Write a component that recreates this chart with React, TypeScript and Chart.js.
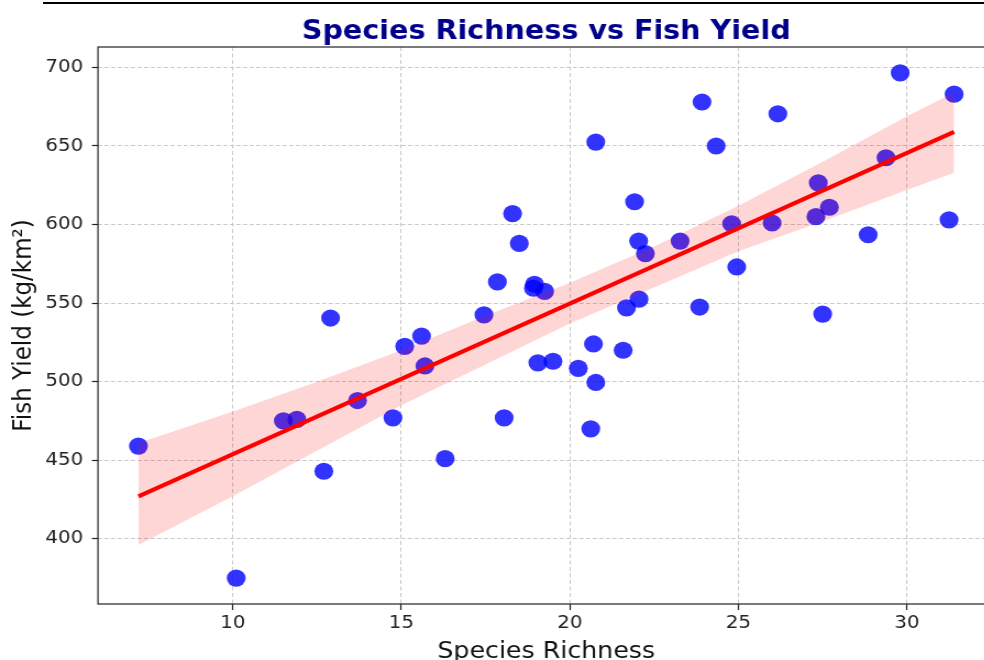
import React, { useEffect, useRef } from "react";
import { Chart, registerables } from "chart.js";

Chart.register(...registerables);

const TITLE = "Species Richness vs Fish Yield";
const X_LABEL = "Species Richness";
const Y_LABEL = "Fish Yield (kg/km²)";

const RICHNESS = [
  7.2, 10.1, 11.5, 11.9, 12.7, 12.9, 13.7, 14.75, 15.1, 15.6, 15.7, 16.3, 17.45,
  17.85, 18.05, 18.3, 18.5, 18.95, 18.92, 19.25, 19.05, 19.5, 20.25, 20.7, 20.77,
  20.62, 20.77, 21.58, 21.68, 22.05, 21.92, 22.04, 22.24, 23.27, 23.85, 23.92,
  24.34, 24.8, 24.95, 26.0, 26.17, 27.3, 27.37, 27.7, 27.5, 28.85, 29.38, 29.8,
  31.25, 31.4,
];
const YIELD = [
  459, 375, 475, 476, 443, 540.5, 488, 477, 522.5, 529, 510, 451, 542.5, 563.5,
  477, 607, 588, 562, 559.5, 557.5, 512, 513, 508.5, 524, 499.5, 470, 652.5, 520,
  547, 552.5, 614.5, 589.5, 581.5, 589.5, 547.5, 678, 650, 600.5, 573, 601, 670.5,
  605, 626.5, 611, 543, 593.5, 642.5, 696.5, 603, 683,
];

const FIT_X = [7.2, 31.4];
const FIT_Y = [427, 659];

const BAND_X = [7.2, 10, 12.5, 15, 17.5, 20, 22.5, 25, 27.5, 30, 31.4];
const BAND_UPPER = [461, 481, 500, 520, 542, 563, 586, 612, 640, 669, 684];
const BAND_LOWER = [396, 427, 456, 485, 511, 537, 560, 583, 602, 622, 633];

const X_TICKS = [10, 15, 20, 25, 30];
const Y_TICKS = [400, 450, 500, 550, 600, 650, 700];

const FONT = "'DejaVu Sans', sans-serif";
const SX = 1.1;
const CW = 913;
const CH = 680;

export default function App() {
  const ref = useRef<HTMLCanvasElement>(null);

  useEffect(() => {
    const canvas = ref.current;
    if (!canvas) return;

    const frame = {
      id: "frame",
      afterDraw(chart: any) {
        const { ctx, chartArea: a } = chart;
        ctx.save();
        ctx.strokeStyle = "#222";
        ctx.lineWidth = 1.2;
        ctx.strokeRect(a.left, a.top, a.right - a.left, a.bottom - a.top);
        ctx.restore();
      },
    };

    const chart = new Chart(canvas, {
      type: "scatter",
      data: {
        datasets: [
          {
            type: "line",
            label: "fit",
            data: FIT_X.map((x, i) => ({ x, y: FIT_Y[i] })),
            borderColor: "#ff0000",
            borderWidth: 4,
            pointRadius: 0,
            fill: false,
            tension: 0,
            order: 0,
          } as any,
          {
            type: "line",
            label: "ci upper",
            data: BAND_X.map((x, i) => ({ x, y: BAND_UPPER[i] })),
            borderColor: "transparent",
            borderWidth: 1,
            pointRadius: 0,
            fill: "+1",
            backgroundColor: "rgba(255,0,0,0.16)",
            tension: 0,
            order: 1,
          } as any,
          {
            type: "line",
            label: "ci lower",
            data: BAND_X.map((x, i) => ({ x, y: BAND_LOWER[i] })),
            borderColor: "transparent",
            borderWidth: 1,
            pointRadius: 0,
            fill: false,
            tension: 0,
            order: 1,
          } as any,
          {
            type: "scatter",
            label: "data",
            data: RICHNESS.map((x, i) => ({ x, y: YIELD[i] })),
            backgroundColor: "rgba(0,0,255,0.8)",
            borderWidth: 0,
            pointRadius: 8.6,
            order: 2,
          } as any,
        ],
      },
      options: {
        animation: false,
        responsive: false,
        devicePixelRatio: 1,
        events: [],
        layout: { padding: { left: 0, right: 5, top: 0, bottom: 0 } },
        plugins: {
          legend: { display: false },
          tooltip: { enabled: false },
          title: {
            display: true,
            text: TITLE,
            color: "#00008B",
            font: { family: FONT, size: 26, weight: "bold", lineHeight: 1.1 },
            padding: { top: 17.5, bottom: 0.9 },
            fullSize: false,
          },
        },
        scales: {
          x: {
            type: "linear",
            min: 6.0,
            max: 32.6,
            afterBuildTicks: (s: any) => {
              s.ticks = X_TICKS.map((v) => ({ value: v }));
            },
            afterFit: (s: any) => {
              s.height = 76;
            },
            grid: {
              color: "#c8c8c8",
              lineWidth: 1,
              tickLength: 6,
              tickColor: "#222",
              tickWidth: 1.2,
              tickBorderDash: [],
            },
            border: { display: false, dash: [4, 2.5] },
            ticks: {
              color: "#222",
              font: { family: FONT, size: 18 },
              padding: 3,
              maxRotation: 0,
              autoSkip: false,
            },
            title: {
              display: true,
              text: X_LABEL,
              color: "#111",
              font: { family: FONT, size: 23 },
              padding: { top: 0, bottom: 14.2 },
            },
          },
          y: {
            type: "linear",
            min: 358.5,
            max: 713,
            afterBuildTicks: (s: any) => {
              s.ticks = Y_TICKS.map((v) => ({ value: v }));
            },
            afterFit: (s: any) => {
              s.width = 89.1;
            },
            grid: {
              color: "#c8c8c8",
              lineWidth: 1,
              tickLength: 5.5,
              tickColor: "#222",
              tickWidth: 1.2,
              tickBorderDash: [],
            },
            border: { display: false, dash: [3.7, 2.3] },
            ticks: {
              color: "#222",
              font: { family: FONT, size: 18 },
              padding: 8,
              autoSkip: false,
            },
            title: {
              display: true,
              text: Y_LABEL,
              color: "#111",
              font: { family: FONT, size: 23 },
              padding: { top: 8.6, bottom: 0 },
            },
          },
        },
      } as any,
      plugins: [frame],
    });

    return () => chart.destroy();
  }, []);

  return (
    <div
      style={{
        position: "absolute",
        left: 0,
        top: 0,
        width: 984,
        height: 660,
        overflow: "hidden",
        background: "#fff",
      }}
    >
      <canvas
        ref={ref}
        width={CW}
        height={CH}
        style={{
          position: "absolute",
          left: 0,
          top: 0,
          width: `${CW * SX}px`,
          height: `${CH}px`,
        }}
      />
      <div
        style={{
          position: "absolute",
          left: 43,
          top: 2,
          width: 941,
          height: 2,
          background: "#000",
        }}
      />
    </div>
  );
}
